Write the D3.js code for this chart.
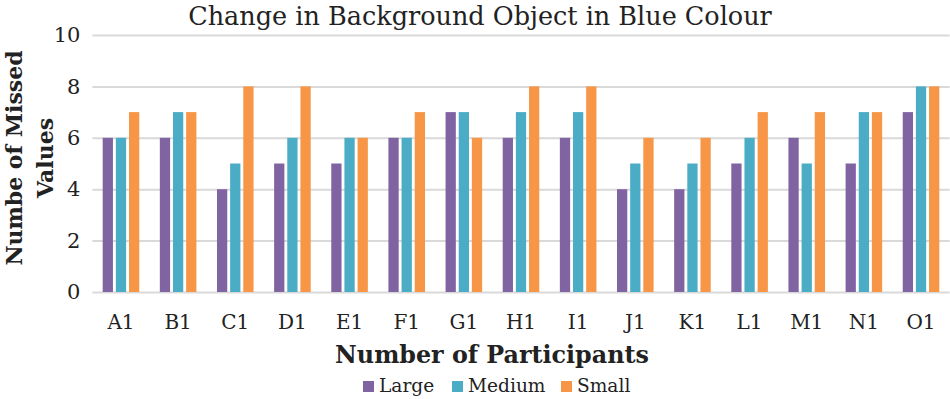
<!DOCTYPE html>
<html lang="en">
<head>
  <meta charset="UTF-8">
  <title>Change in Background Object in Blue Colour</title>
  <script src="https://d3js.org/d3.v7.min.js"></script>
  <style>
    body { margin: 0; background: #fff; }
    svg { font-family: "DejaVu Serif", serif; }
    .grid line { stroke: #d9d9d9; stroke-width: 2; }
    .grid path { display: none; }
  </style>
</head>
<body>
  <div id="chart"></div>
  <script>
    // Data
    const participants = ["A1","B1","C1","D1","E1","F1","G1","H1","I1","J1","K1","L1","M1","N1","O1"];
    const seriesNames = ["Large", "Medium", "Small"];
    const large  = [6, 6, 4, 5, 5, 6, 7, 6, 6, 4, 4, 5, 6, 5, 7];
    const medium = [6, 7, 5, 6, 6, 6, 7, 7, 7, 5, 5, 6, 5, 7, 8];
    const small  = [7, 7, 8, 8, 6, 7, 6, 8, 8, 6, 6, 7, 7, 7, 8];
    const yTicks = [0, 2, 4, 6, 8, 10];
    const colors = ["#8064a2", "#4bacc6", "#f79646"];

    const W = 950, H = 399;
    const plot = { left: 92.4, right: 949.6, top: 35, bottom: 292 };

    const data = participants.map((p, i) => ({ p, vals: [large[i], medium[i], small[i]] }));

    const svg = d3.select("#chart").append("svg")
      .attr("width", W).attr("height", H);

    const x0 = d3.scaleBand().domain(participants)
      .range([plot.left, plot.right]).paddingInner(0.36).paddingOuter(0.18);
    const x1 = d3.scaleBand().domain(seriesNames)
      .range([0, x0.bandwidth()]).paddingInner(0.22);
    const y = d3.scaleLinear().domain([0, 10]).range([plot.bottom, plot.top]);

    // gridlines
    svg.append("g").attr("class", "grid")
      .attr("transform", `translate(${plot.left},0)`)
      .call(d3.axisLeft(y).tickValues(yTicks).tickSize(-(plot.right - plot.left)).tickFormat(""));

    // bars
    const groups = svg.append("g").selectAll("g")
      .data(data).enter().append("g")
      .attr("transform", d => `translate(${x0(d.p)},0)`);
    groups.selectAll("rect")
      .data(d => d.vals.map((v, k) => ({ name: seriesNames[k], v, k })))
      .enter().append("rect")
      .attr("x", d => x1(d.name))
      .attr("width", x1.bandwidth())
      .attr("y", d => y(d.v))
      .attr("height", d => y(0) - y(d.v))
      .attr("fill", d => colors[d.k]);

    // y tick labels
    const yAxis = svg.append("g")
      .attr("transform", `translate(${plot.left - 12},0)`)
      .call(d3.axisLeft(y).tickValues(yTicks).tickSize(0).tickPadding(0));
    yAxis.select(".domain").remove();
    yAxis.selectAll("text").attr("font-family", "DejaVu Serif").attr("font-size", 21).attr("fill", "#222");

    // x tick labels
    const xAxis = svg.append("g")
      .attr("transform", `translate(0,${plot.bottom})`)
      .call(d3.axisBottom(x0).tickSize(0).tickPadding(23));
    xAxis.select(".domain").remove();
    xAxis.selectAll("text").attr("font-family", "DejaVu Serif").attr("font-size", 20).attr("fill", "#222");

    // title
    svg.append("text").attr("x", 480).attr("y", 25)
      .attr("text-anchor", "middle").attr("font-size", 25.5).attr("fill", "#222")
      .text("Change in Background Object in Blue Colour");

    // x-axis title
    svg.append("text").attr("x", 492).attr("y", 363)
      .attr("text-anchor", "middle").attr("font-size", 23.8).attr("font-weight", "bold").attr("fill", "#222")
      .text("Number of Participants");

    // y-axis title
    const yt = svg.append("text")
      .attr("transform", "translate(0,158) rotate(-90)")
      .attr("text-anchor", "middle").attr("font-size", 22).attr("font-weight", "bold").attr("fill", "#222");
    yt.append("tspan").attr("x", 0).attr("y", 22).text("Numbe of Missed");
    yt.append("tspan").attr("x", 0).attr("y", 53).text("Values");

    // legend
    const legendX = [363, 452, 561];
    const lg = svg.append("g").selectAll("g").data(seriesNames).enter().append("g")
      .attr("transform", (d, i) => `translate(${legendX[i]},392)`);
    lg.append("rect").attr("x", 0).attr("y", -11).attr("width", 11).attr("height", 11)
      .attr("fill", (d, i) => colors[i]);
    lg.append("text").attr("x", 16).attr("y", 0).attr("font-size", 18.6).attr("fill", "#222")
      .text(d => d);
  </script>
</body>
</html>
